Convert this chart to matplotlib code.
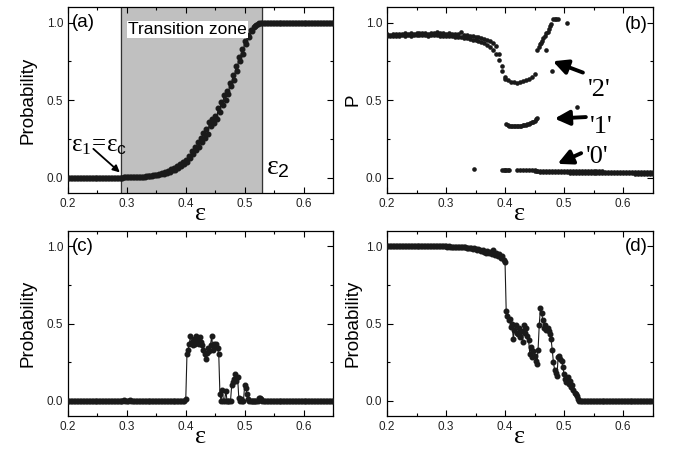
import numpy as np
import matplotlib
matplotlib.use("Agg")
import matplotlib.pyplot as plt
from matplotlib.ticker import MultipleLocator

plt.rcParams['font.family'] = ['Liberation Sans', 'DejaVu Sans']
plt.rcParams['mathtext.fontset'] = 'custom'
plt.rcParams['mathtext.rm'] = 'Liberation Serif'
plt.rcParams['mathtext.it'] = 'Liberation Serif'
plt.rcParams['mathtext.sf'] = 'Liberation Sans'

# ---------------- data ----------------
# panel (a): probability across the transition zone (step 0.0025 from 0.29)
a_start = 0.29
a_rise = [0.000, 0.000, 0.001, 0.001, 0.002, 0.001, 0.002, 0.002, 0.003, 0.002,
          0.003, 0.004, 0.003, 0.005, 0.004, 0.006, 0.005, 0.007, 0.008, 0.010,
          0.009, 0.012, 0.014, 0.013, 0.018, 0.016, 0.022, 0.020, 0.028, 0.025,
          0.034, 0.030, 0.045, 0.038, 0.052, 0.046, 0.060, 0.050, 0.072, 0.062,
          0.085, 0.075, 0.098, 0.088, 0.115, 0.100, 0.140, 0.125, 0.170, 0.150,
          0.200, 0.175, 0.230, 0.200, 0.255, 0.230, 0.290, 0.255, 0.310, 0.280,
          0.355, 0.330, 0.380, 0.350, 0.400, 0.375, 0.450, 0.420, 0.490, 0.470,
          0.530, 0.500, 0.560, 0.540, 0.610, 0.590, 0.660, 0.630, 0.720, 0.690,
          0.780, 0.750, 0.830, 0.800, 0.880, 0.860, 0.920, 0.905, 0.950, 0.945,
          0.970, 0.975, 0.985, 0.990, 0.995, 0.998, 1.000]
a_low_level = 0.0
a_high_level = 1.0

# panel (b): three branches
b_main_start = 0.20
b_main_hi = [0.925, 0.922, 0.926, 0.924, 0.928, 0.925, 0.930, 0.927, 0.932, 0.928,
             0.931, 0.935, 0.930, 0.933, 0.929, 0.932, 0.930, 0.936, 0.933, 0.930,
             0.928, 0.931, 0.926, 0.928, 0.925, 0.938, 0.922, 0.918, 0.915, 0.912,
             0.908, 0.905, 0.900, 0.895, 0.890, 0.880, 0.870, 0.850, 0.800, 0.720,
             0.650, 0.628, 0.618, 0.613, 0.612, 0.614, 0.620, 0.627, 0.636, 0.648,
             0.665]
b_main_lo = [0.912, 0.915, 0.913, 0.916, 0.914, 0.917, 0.915, 0.918, 0.916, 0.919,
             0.917, 0.920, 0.918, 0.920, 0.916, 0.919, 0.917, 0.918, 0.915, 0.916,
             0.914, 0.912, 0.910, 0.908, 0.906, 0.904, 0.900, 0.897, 0.893, 0.889,
             0.884, 0.878, 0.872, 0.866, 0.858, 0.845, 0.825, 0.800, 0.760, 0.690,
             0.635]
b2_eps = [0.455, 0.457, 0.459, 0.461, 0.463, 0.465, 0.467, 0.469, 0.470, 0.472,
          0.474, 0.476, 0.478, 0.480, 0.481, 0.484, 0.487, 0.490, 0.505]
b2_p = [0.82, 0.84, 0.86, 0.87, 0.88, 0.90, 0.91, 0.82, 0.93, 0.94,
        0.96, 0.98, 0.99, 0.69, 1.02, 1.025, 1.025, 1.02, 1.00]
b1_start = 0.4025
b1_p = [0.345, 0.338, 0.335, 0.333, 0.332, 0.332, 0.331, 0.332, 0.333, 0.333,
        0.335, 0.336, 0.338, 0.340, 0.343, 0.346, 0.350, 0.355, 0.360, 0.367,
        0.375, 0.385]
b1_extra_eps = [0.522]
b1_extra_p = [0.455]
b0_iso_eps = [0.348, 0.395, 0.3975, 0.400, 0.4025, 0.405, 0.4075]
b0_iso_p = [0.052, 0.047, 0.047, 0.047, 0.047, 0.047, 0.047]
b0_hi_start = 0.42
b0_hi = [0.048, 0.047, 0.047, 0.047, 0.046, 0.046, 0.046, 0.045, 0.045, 0.045,
         0.044, 0.044, 0.044, 0.043, 0.043, 0.043, 0.042, 0.042, 0.042, 0.041,
         0.041, 0.041, 0.040, 0.040, 0.040, 0.040, 0.039, 0.039, 0.039, 0.039,
         0.038, 0.038, 0.038, 0.038, 0.037, 0.037, 0.037, 0.037, 0.037, 0.036,
         0.036, 0.036, 0.036, 0.036, 0.035, 0.035, 0.035]
b0_lo_start = 0.45
b0_lo = [0.040, 0.039, 0.038, 0.038, 0.037, 0.036, 0.036, 0.035, 0.034, 0.034,
         0.033, 0.033, 0.032, 0.032, 0.031, 0.031, 0.030, 0.030, 0.030, 0.029,
         0.029, 0.029, 0.028, 0.028, 0.028, 0.027, 0.027, 0.027, 0.027, 0.026,
         0.026, 0.026, 0.026, 0.026, 0.025, 0.025, 0.025, 0.025, 0.025, 0.025,
         0.025]

# panel (c): active window (step 0.002 from 0.400)
c_start = 0.400
c_p = [0.01, 0.30, 0.33, 0.37, 0.42, 0.38, 0.36, 0.40, 0.37, 0.42,
       0.39, 0.37, 0.41, 0.38, 0.36, 0.33, 0.30, 0.27, 0.31, 0.34,
       0.32, 0.36, 0.42, 0.33, 0.37, 0.35, 0.37, 0.34, 0.30, 0.04,
       0.00, 0.07, 0.00, 0.00, 0.065, 0.00, 0.00, 0.00, 0.00, 0.10,
       0.12, 0.14, 0.17, 0.13, 0.15, 0.02, 0.00, 0.01, 0.00, 0.00,
       0.10, 0.08, 0.04, 0.01, 0.00, 0.00, 0.00, 0.00, 0.00, 0.00,
       0.00, 0.00, 0.015, 0.02, 0.01, 0.00]
c_bump_eps = [0.295, 0.305]
c_bump_p = [0.004, 0.007]

# panel (d)
d_decl_start = 0.30   # step 0.0025
d_decl = [1.000, 0.999, 1.000, 0.998, 0.999, 0.997, 0.998, 0.996, 0.997, 0.995,
          0.996, 0.994, 0.993, 0.995, 0.992, 0.990, 0.991, 0.988, 0.985, 0.987,
          0.982, 0.978, 0.983, 0.975, 0.970, 0.978, 0.965, 0.960, 0.972, 0.955,
          0.965, 0.950, 0.975, 0.945, 0.960, 0.935, 0.950, 0.925, 0.940, 0.915,
          0.900]
d_act_start = 0.402   # step 0.002
d_act = [0.58, 0.55, 0.52, 0.53, 0.48, 0.50, 0.40, 0.46, 0.49, 0.44,
         0.43, 0.47, 0.41, 0.45, 0.38, 0.49, 0.44, 0.47, 0.42, 0.39,
         0.30, 0.35, 0.28, 0.32, 0.29, 0.26, 0.24, 0.33, 0.49, 0.60,
         0.57, 0.52, 0.47, 0.49, 0.46, 0.47, 0.45, 0.43, 0.40, 0.33,
         0.25, 0.20, 0.18, 0.16, 0.28, 0.29, 0.27, 0.26, 0.22, 0.17,
         0.14, 0.12, 0.15, 0.11, 0.13, 0.09, 0.10, 0.07, 0.05, 0.04,
         0.03, 0.01, 0.00]

x_ticks = [0.2, 0.3, 0.4, 0.5, 0.6]
y_ticks = [0.0, 0.5, 1.0]

# ---------------- helpers ----------------
def grid(start, step, n):
    return start + step * np.arange(n)

def flat(start, stop, step):
    return np.arange(start, stop + 1e-9, step)

INK = '#1a1a1a'

def style_axes(ax):
    ax.set_xlim(0.2, 0.65)
    ax.set_ylim(-0.1, 1.1)
    ax.set_xticks(x_ticks)
    ax.set_yticks(y_ticks)
    ax.xaxis.set_minor_locator(MultipleLocator(0.05))
    ax.yaxis.set_minor_locator(MultipleLocator(0.25))
    ax.tick_params(which='both', direction='in', top=True, right=True,
                   labelsize=8.5, width=0.8, labelcolor='#222222')
    ax.tick_params(which='major', length=4)
    ax.tick_params(which='minor', length=2.5)
    for s in ax.spines.values():
        s.set_linewidth(0.9)
    ax.set_xlabel('ε', family='Liberation Serif', fontsize=19, labelpad=-5)

line_kw = dict(color=INK, lw=0.8, marker='o', ms=3.3, mec=INK, mfc=INK)

fig = plt.figure(figsize=(6.76, 4.55), dpi=100)
ax_a = fig.add_axes([0.1006, 0.5758, 0.392, 0.4088])
ax_b = fig.add_axes([0.5725, 0.5758, 0.3928, 0.4088])
ax_c = fig.add_axes([0.1006, 0.0857, 0.392, 0.4066])
ax_d = fig.add_axes([0.5725, 0.0857, 0.3928, 0.4066])

# ---- (a)
ax = ax_a
ax.axvspan(0.29, 0.53, color='#c0c0c0', zorder=0)
ax.axvline(0.29, color='#333333', lw=0.9, zorder=1)
ax.axvline(0.53, color='#333333', lw=0.9, zorder=1)
xa_low = flat(0.20, 0.2875, 0.0025)
xa_rise = grid(a_start, 0.0025, len(a_rise))
xa_high = flat(0.5325, 0.65, 0.0025)
xa = np.concatenate([xa_low, xa_rise, xa_high])
ya = np.concatenate([np.full(len(xa_low), a_low_level), a_rise,
                     np.full(len(xa_high), a_high_level)])
ax.plot(xa, ya, zorder=3, **line_kw)
style_axes(ax)
ax.set_ylabel('Probability', fontsize=13.5, labelpad=7)
ax.text(0.207, 1.0, '(a)', fontsize=13.5, va='center', ha='left')
ax.text(0.403, 0.955, 'Transition zone', fontsize=12.5, ha='center', va='center',
        bbox=dict(facecolor='white', edgecolor='none', pad=1.0), zorder=4)
ax.text(0.205, 0.21, r'$\varepsilon_{\mathrm{1}}\!=\!\varepsilon_{\mathsf{c}}$',
        fontsize=18, ha='left', va='center')
ax.annotate('', xy=(0.288, 0.033), xytext=(0.243, 0.185),
            arrowprops=dict(arrowstyle='-|>', color='black', lw=1.3,
                            mutation_scale=10, shrinkA=0, shrinkB=0), zorder=5)
ax.text(0.536, 0.07, r'$\varepsilon_{\mathsf{2}}$', fontsize=20,
        ha='left', va='center')

# ---- (b)
ax = ax_b
dot = dict(s=11, color=INK, linewidths=0, zorder=3)
ax.scatter(grid(b_main_start, 0.005, len(b_main_hi)), b_main_hi, **dot)
ax.scatter(grid(b_main_start, 0.005, len(b_main_lo)), b_main_lo, **dot)
ax.scatter(b2_eps, b2_p, **dot)
ax.scatter(grid(b1_start, 0.0025, len(b1_p)), b1_p, **dot)
ax.scatter(b1_extra_eps, b1_extra_p, **dot)
ax.scatter(b0_iso_eps, b0_iso_p, **dot)
ax.scatter(grid(b0_hi_start, 0.005, len(b0_hi)), b0_hi, **dot)
ax.scatter(grid(b0_lo_start, 0.005, len(b0_lo)), b0_lo, **dot)
style_axes(ax)
ax.set_ylabel('P', fontsize=13.5, labelpad=3)
ax.text(0.642, 0.985, '(b)', fontsize=13.5, va='center', ha='right')
arrow_b = dict(arrowstyle='-|>', color='black', lw=2.8, mutation_scale=22,
               shrinkA=0, shrinkB=0)
ax.annotate('', xy=(0.481, 0.75), xytext=(0.532, 0.677), arrowprops=arrow_b)
ax.annotate('', xy=(0.484, 0.38), xytext=(0.537, 0.39), arrowprops=arrow_b)
ax.annotate('', xy=(0.489, 0.088), xytext=(0.529, 0.157), arrowprops=arrow_b)
serif = dict(family='Liberation Serif', fontsize=19, ha='center', va='center')
ax.text(0.560, 0.565, "'2'", **serif)
ax.text(0.563, 0.328, "'1'", **serif)
ax.text(0.557, 0.134, "'0'", **serif)

# ---- (c)
ax = ax_c
xc_low = flat(0.20, 0.3975, 0.0025)
yc_low = np.full(len(xc_low), 0.0)
for e, p in zip(c_bump_eps, c_bump_p):
    yc_low[np.argmin(np.abs(xc_low - e))] = p
xc_act = grid(c_start, 0.002, len(c_p))
xc_high = flat(xc_act[-1] + 0.0025, 0.65, 0.0025)
xc = np.concatenate([xc_low, xc_act, xc_high])
yc = np.concatenate([yc_low, c_p, np.full(len(xc_high), 0.0)])
ax.plot(xc, yc, zorder=3, **line_kw)
style_axes(ax)
ax.set_ylabel('Probability', fontsize=13.5, labelpad=7)
ax.text(0.207, 1.0, '(c)', fontsize=13.5, va='center', ha='left')

# ---- (d)
ax = ax_d
xd_top = flat(0.20, 0.2975, 0.0025)
xd_decl = grid(d_decl_start, 0.0025, len(d_decl))
xd_act = grid(d_act_start, 0.002, len(d_act))
xd_end = flat(xd_act[-1] + 0.0025, 0.65, 0.0025)
xd = np.concatenate([xd_top, xd_decl, xd_act, xd_end])
yd = np.concatenate([np.full(len(xd_top), 1.0), d_decl, d_act,
                     np.full(len(xd_end), 0.0)])
ax.plot(xd, yd, zorder=3, **line_kw)
style_axes(ax)
ax.set_ylabel('Probability', fontsize=13.5, labelpad=3)
ax.text(0.642, 1.0, '(d)', fontsize=13.5, va='center', ha='right')

fig.savefig('out.png', dpi=100)
